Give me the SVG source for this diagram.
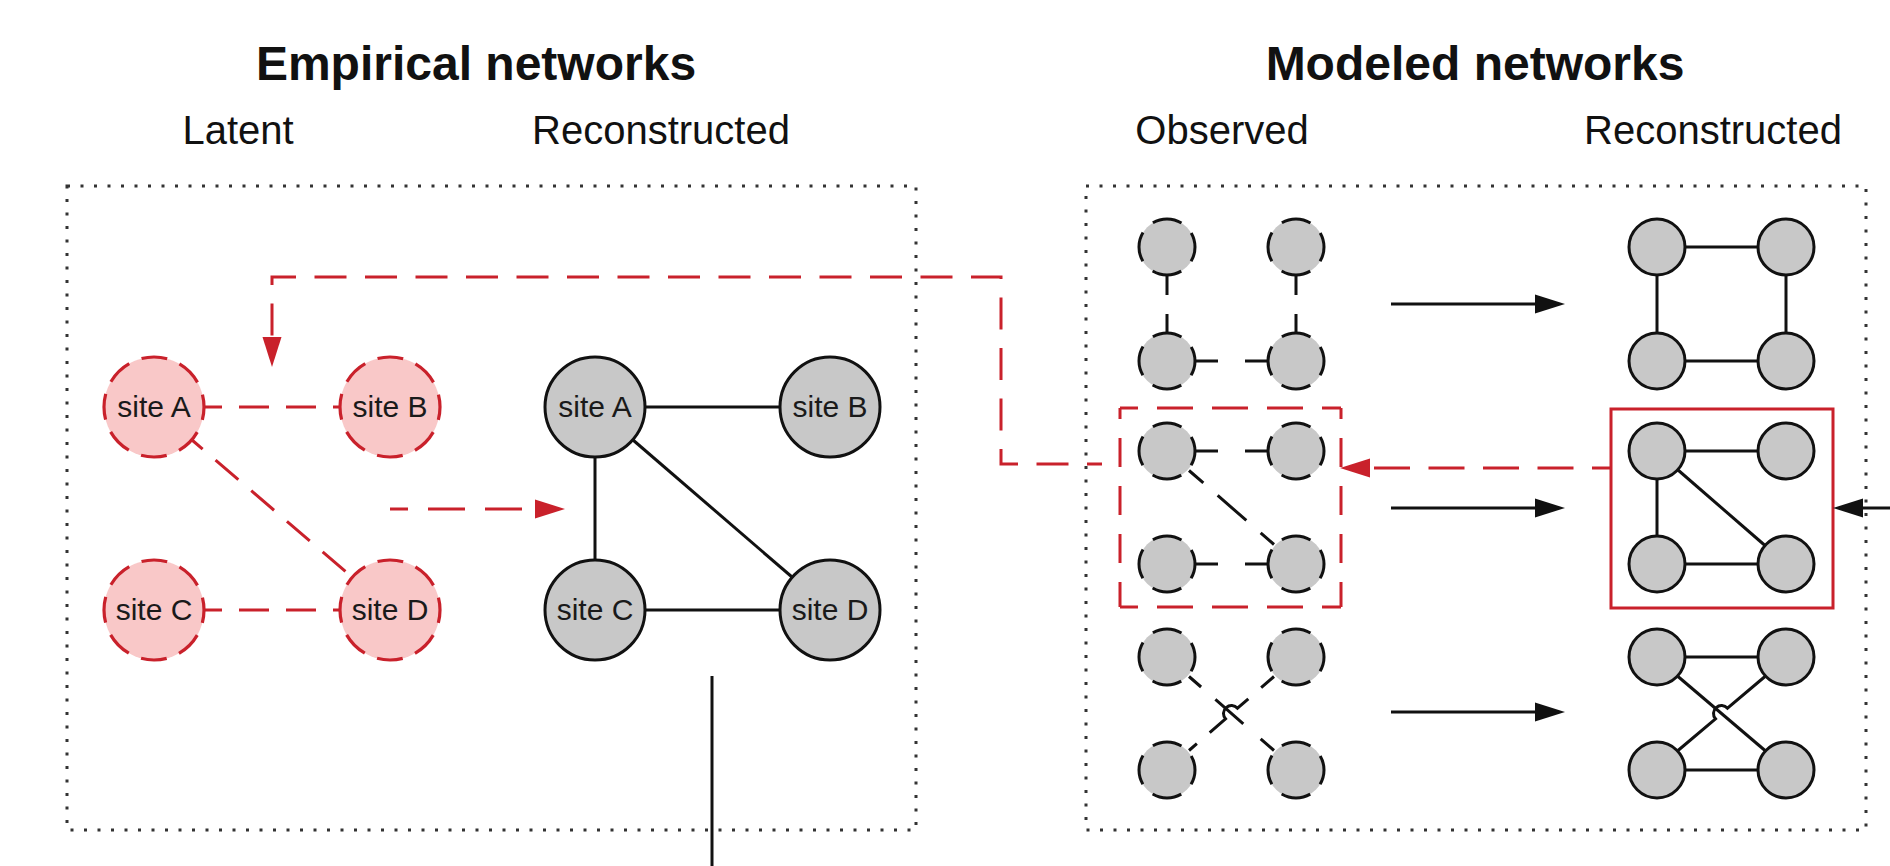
<svg xmlns="http://www.w3.org/2000/svg" width="1890" height="866" viewBox="0 0 1890 866">
<defs>
<style>
.title{font-family:"Liberation Sans",Arial,sans-serif;font-weight:bold;font-size:48px;fill:#111;text-anchor:middle}
.sub{font-family:"Liberation Sans",Arial,sans-serif;font-size:40px;fill:#111;text-anchor:middle}
.lbl{font-family:"Liberation Sans",Arial,sans-serif;font-size:30px;fill:#1a1a1a;text-anchor:middle}
.frame{fill:none;stroke:#333;stroke-width:3;stroke-dasharray:3 10.5}
.latent{fill:#f9c8c8;stroke:#c9212b;stroke-width:3.2;stroke-dasharray:26 13.27;stroke-dashoffset:13}
.recon{fill:#c8c8c8;stroke:#111;stroke-width:3}
.obs{fill:#c8c8c8;stroke:#111;stroke-width:3;stroke-dasharray:30 13.98;stroke-dashoffset:15}
.edge{fill:none;stroke:#111;stroke-width:3}
.dedge{fill:none;stroke:#111;stroke-width:3}
.redge{fill:none;stroke:#c9212b;stroke-width:3;stroke-dasharray:30 17}
.rdash{fill:none;stroke:#c9212b;stroke-width:3}
.rbox{fill:none;stroke:#c9212b;stroke-width:3}
.arrow{fill:none;stroke:#111;stroke-width:3}
</style>
<marker id="ahBlack" markerUnits="userSpaceOnUse" viewBox="0 0 30 20" refX="0" refY="10" markerWidth="30" markerHeight="20" orient="auto"><path d="M0,0.5 L30,10 L0,19.5 Z" fill="#111"/></marker>
<marker id="ahRed" markerUnits="userSpaceOnUse" viewBox="0 0 30 20" refX="0" refY="10" markerWidth="30" markerHeight="20" orient="auto"><path d="M0,0.5 L30,10 L0,19.5 Z" fill="#c9212b"/></marker>
</defs>
<rect width="1890" height="866" fill="#fff"/>

<g id="headings">
<text class="title" x="476" y="80">Empirical networks</text>
<text class="title" x="1475" y="80">Modeled networks</text>
<text class="sub" x="238" y="144">Latent</text>
<text class="sub" x="661" y="144">Reconstructed</text>
<text class="sub" x="1222" y="144">Observed</text>
<text class="sub" x="1713" y="144">Reconstructed</text>
</g>

<g id="frames">
<rect class="frame" x="67" y="186" width="849" height="644"/>
<rect class="frame" x="1086" y="186" width="780" height="644"/>
<rect class="rbox" x="1611" y="409" width="222" height="199"/>
<line class="rdash" x1="1120" y1="408" x2="1341" y2="408" style="stroke-dasharray:36 19;stroke-dashoffset:18"/>
<line class="rdash" x1="1120" y1="607" x2="1341" y2="607" style="stroke-dasharray:36 19;stroke-dashoffset:18"/>
<line class="rdash" x1="1120" y1="408" x2="1120" y2="607" style="stroke-dasharray:29 19;stroke-dashoffset:18"/>
<line class="rdash" x1="1341" y1="408" x2="1341" y2="607" style="stroke-dasharray:29 19;stroke-dashoffset:18"/>
</g>

<g id="connectors">
<!-- latent edges -->
<line class="redge" x1="204" y1="407" x2="340" y2="407" style="stroke-dashoffset:12"/>
<line class="redge" x1="192" y1="440" x2="352" y2="577" style="stroke-dashoffset:16"/>
<line class="redge" x1="204" y1="610" x2="340" y2="610" style="stroke-dashoffset:12"/>
<!-- empirical reconstructed edges -->
<line class="edge" x1="645" y1="407" x2="780" y2="407"/>
<line class="edge" x1="595" y1="457" x2="595" y2="560"/>
<line class="edge" x1="633" y1="440" x2="792" y2="577"/>
<line class="edge" x1="645" y1="610" x2="780" y2="610"/>
<!-- observed edges -->
<line class="dedge" x1="1167" y1="276" x2="1167" y2="333" style="stroke-dasharray:19 19"/>
<line class="dedge" x1="1296" y1="276" x2="1296" y2="333" style="stroke-dasharray:19 19"/>
<line class="dedge" x1="1196" y1="361" x2="1267" y2="361" style="stroke-dasharray:22 27"/>
<line class="dedge" x1="1196" y1="451" x2="1267" y2="451" style="stroke-dasharray:22 27"/>
<line class="dedge" x1="1196" y1="564" x2="1267" y2="564" style="stroke-dasharray:22 27"/>
<line class="dedge" x1="1189" y1="470.5" x2="1274" y2="544.5" style="stroke-dasharray:38 19;stroke-dashoffset:19"/>
<line class="dedge" x1="1189" y1="676.5" x2="1274" y2="750.5" style="stroke-dasharray:16 19 37 23 20"/>
<path class="dedge" d="M1274,676.5 L1237.5,708.2 A8,8 0 0 0 1225.5,718.8 L1189,750.5" style="stroke-dasharray:17 17 60 17 20"/>
<!-- modeled reconstructed edges -->
<line class="edge" x1="1685" y1="247" x2="1758" y2="247"/>
<line class="edge" x1="1685" y1="361" x2="1758" y2="361"/>
<line class="edge" x1="1657" y1="275" x2="1657" y2="333"/>
<line class="edge" x1="1786" y1="275" x2="1786" y2="333"/>
<line class="edge" x1="1685" y1="451" x2="1758" y2="451"/>
<line class="edge" x1="1685" y1="564" x2="1758" y2="564"/>
<line class="edge" x1="1657" y1="479" x2="1657" y2="536"/>
<line class="edge" x1="1678" y1="470" x2="1765" y2="545.5"/>
<line class="edge" x1="1685" y1="657" x2="1758" y2="657"/>
<line class="edge" x1="1685" y1="770" x2="1758" y2="770"/>
<line class="edge" x1="1678" y1="676.5" x2="1765" y2="750.5"/>
<path class="edge" d="M1765,676.5 L1727.5,708.2 A8,8 0 0 0 1715.5,718.8 L1678,750.5"/>
<!-- process arrows -->
<line class="arrow" x1="1391" y1="304" x2="1535" y2="304" marker-end="url(#ahBlack)"/>
<line class="arrow" x1="1391" y1="508" x2="1535" y2="508" marker-end="url(#ahBlack)"/>
<line class="arrow" x1="1391" y1="712" x2="1535" y2="712" marker-end="url(#ahBlack)"/>
<line class="arrow" x1="1890" y1="508" x2="1863" y2="508" marker-end="url(#ahBlack)"/>
<line class="arrow" x1="712" y1="676" x2="712" y2="866"/>
<!-- red dashed flows -->
<path class="rdash" d="M390,509 H535" style="stroke-dasharray:37 20;stroke-dashoffset:19" marker-end="url(#ahRed)"/>
<path class="rdash" d="M1611,468 H1370" style="stroke-dasharray:36 18.5;stroke-dashoffset:17" marker-end="url(#ahRed)"/>
<path class="rdash" d="M1102,464 H1001 V277 H272 V337" style="stroke-dasharray:32 18.5;stroke-dashoffset:17" marker-end="url(#ahRed)"/>
</g>

<g id="latent-site-A"><circle class="latent" cx="154" cy="407" r="50"/><text class="lbl" x="154" y="417">site A</text></g>
<g id="latent-site-B"><circle class="latent" cx="390" cy="407" r="50"/><text class="lbl" x="390" y="417">site B</text></g>
<g id="latent-site-C"><circle class="latent" cx="154" cy="610" r="50"/><text class="lbl" x="154" y="620">site C</text></g>
<g id="latent-site-D"><circle class="latent" cx="390" cy="610" r="50"/><text class="lbl" x="390" y="620">site D</text></g>

<g id="recon-site-A"><circle class="recon" cx="595" cy="407" r="50"/><text class="lbl" x="595" y="417">site A</text></g>
<g id="recon-site-B"><circle class="recon" cx="830" cy="407" r="50"/><text class="lbl" x="830" y="417">site B</text></g>
<g id="recon-site-C"><circle class="recon" cx="595" cy="610" r="50"/><text class="lbl" x="595" y="620">site C</text></g>
<g id="recon-site-D"><circle class="recon" cx="830" cy="610" r="50"/><text class="lbl" x="830" y="620">site D</text></g>

<g id="obs-1a"><circle class="obs" cx="1167" cy="247" r="28"/></g>
<g id="obs-1b"><circle class="obs" cx="1296" cy="247" r="28"/></g>
<g id="obs-1c"><circle class="obs" cx="1167" cy="361" r="28"/></g>
<g id="obs-1d"><circle class="obs" cx="1296" cy="361" r="28"/></g>
<g id="obs-2a"><circle class="obs" cx="1167" cy="451" r="28"/></g>
<g id="obs-2b"><circle class="obs" cx="1296" cy="451" r="28"/></g>
<g id="obs-2c"><circle class="obs" cx="1167" cy="564" r="28"/></g>
<g id="obs-2d"><circle class="obs" cx="1296" cy="564" r="28"/></g>
<g id="obs-3a"><circle class="obs" cx="1167" cy="657" r="28"/></g>
<g id="obs-3b"><circle class="obs" cx="1296" cy="657" r="28"/></g>
<g id="obs-3c"><circle class="obs" cx="1167" cy="770" r="28"/></g>
<g id="obs-3d"><circle class="obs" cx="1296" cy="770" r="28"/></g>

<g id="mod-1a"><circle class="recon" cx="1657" cy="247" r="28"/></g>
<g id="mod-1b"><circle class="recon" cx="1786" cy="247" r="28"/></g>
<g id="mod-1c"><circle class="recon" cx="1657" cy="361" r="28"/></g>
<g id="mod-1d"><circle class="recon" cx="1786" cy="361" r="28"/></g>
<g id="mod-2a"><circle class="recon" cx="1657" cy="451" r="28"/></g>
<g id="mod-2b"><circle class="recon" cx="1786" cy="451" r="28"/></g>
<g id="mod-2c"><circle class="recon" cx="1657" cy="564" r="28"/></g>
<g id="mod-2d"><circle class="recon" cx="1786" cy="564" r="28"/></g>
<g id="mod-3a"><circle class="recon" cx="1657" cy="657" r="28"/></g>
<g id="mod-3b"><circle class="recon" cx="1786" cy="657" r="28"/></g>
<g id="mod-3c"><circle class="recon" cx="1657" cy="770" r="28"/></g>
<g id="mod-3d"><circle class="recon" cx="1786" cy="770" r="28"/></g>
</svg>
